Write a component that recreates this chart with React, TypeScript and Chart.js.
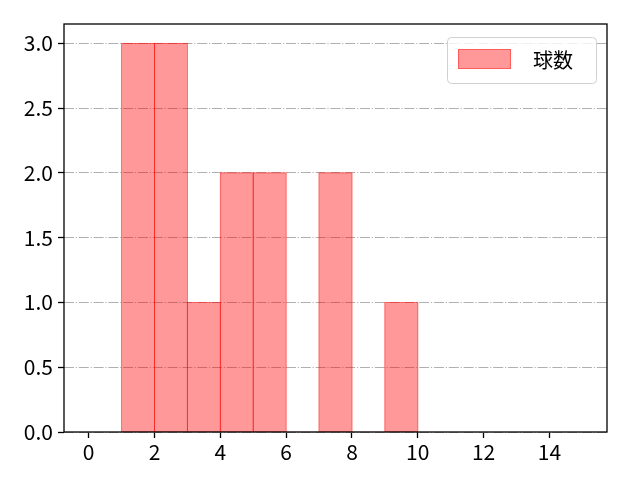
import React, { useEffect, useRef } from "react";
import { Chart, registerables } from "chart.js";

Chart.register(...registerables);

const binCenters = [1.5, 2.5, 3.5, 4.5, 5.5, 6.5, 7.5, 8.5, 9.5];
const counts = [3, 3, 1, 2, 2, 0, 2, 0, 1];
const xTicks = [0, 2, 4, 6, 8, 10, 12, 14];
const yTicks = [0, 0.5, 1, 1.5, 2, 2.5, 3];
const legendLabel = "球数";

const FONT = "'Noto Sans CJK JP', sans-serif";

const framePlugin = {
  id: "frame",
  afterDatasetsDraw(chart: any) {
    const { ctx } = chart;
    const meta = chart.getDatasetMeta(0);
    ctx.save();
    ctx.strokeStyle = "rgba(255,0,0,0.4)";
    ctx.lineWidth = 1;
    meta.data.forEach((el: any, i: number) => {
      if (!counts[i]) return;
      const left = el.x - el.width / 2;
      ctx.strokeRect(left, el.y, el.width, el.base - el.y);
    });
    ctx.restore();
  },
  afterDraw(chart: any) {
    const { ctx, chartArea } = chart;
    ctx.save();
    ctx.strokeStyle = "#000";
    ctx.lineWidth = 1.3;
    ctx.strokeRect(chartArea.left, chartArea.top, chartArea.right - chartArea.left, chartArea.bottom - chartArea.top);
    // legend
    const x = chartArea.right - 160, y = chartArea.top + 13, w = 149, h = 46;
    ctx.fillStyle = "rgba(255,255,255,0.8)";
    ctx.strokeStyle = "#d0d0d0";
    ctx.lineWidth = 1;
    ctx.beginPath();
    (ctx as any).roundRect(x + 0.5, y + 0.5, w, h, 4);
    ctx.fill();
    ctx.stroke();
    ctx.fillStyle = "rgba(255,0,0,0.4)";
    ctx.fillRect(x + 11, y + 12, 53, 20);
    ctx.strokeStyle = "rgba(255,0,0,0.4)";
    ctx.strokeRect(x + 11.5, y + 12.5, 52, 19);
    ctx.fillStyle = "#000";
    ctx.font = "20px 'Noto Sans CJK JP'";
    ctx.textBaseline = "middle";
    ctx.fillText(legendLabel, x + 86, y + 23);
    ctx.restore();
  },
};

export default function App() {
  const ref = useRef<HTMLCanvasElement>(null);
  useEffect(() => {
    const chart = new Chart(ref.current!, {
      type: "bar",
      data: {
        datasets: [
          {
            label: legendLabel,
            data: binCenters.map((x, i) => ({ x, y: counts[i] })),
            backgroundColor: "rgba(255,0,0,0.4)",
            borderWidth: 0,
            barPercentage: 1,
            categoryPercentage: 1,
          } as any,
        ],
      },
      options: {
        responsive: false,
        animation: false,
        layout: { padding: { left: 0, right: 33, top: 24, bottom: 0 } },
        plugins: { legend: { display: false }, tooltip: { enabled: false } },
        scales: {
          x: {
            type: "linear",
            min: -0.75,
            max: 15.75,
            offset: false,
            ticks: {
              color: "#000",
              font: { family: FONT, size: 21 },
              padding: 1,
              maxRotation: 0,
              callback: (v: any) => String(v),
            },
            afterBuildTicks: (s: any) => {
              s.ticks = xTicks.map((v) => ({ value: v }));
            },
            afterFit: (s: any) => {
              s.height = 48;
            },
            grid: { display: true, offset: false, drawOnChartArea: false, tickLength: 6, tickColor: "#000", tickWidth: 1.3 },
            border: { display: false },
          },
          y: {
            min: 0,
            max: 3.15,
            ticks: {
              color: "#000",
              font: { family: FONT, size: 21 },
              padding: 5,
              callback: (v: any) => Number(v).toFixed(1),
            },
            afterBuildTicks: (s: any) => {
              s.ticks = yTicks.map((v) => ({ value: v }));
            },
            afterFit: (s: any) => {
              s.width = 64;
            },
            grid: { color: "#b0b0b0", lineWidth: 1, tickLength: 6, tickColor: "#000", tickWidth: 1.3, tickBorderDash: [] } as any,
            border: { display: false, dash: [10, 1.8, 1.2, 1.8] },
          },
        },
      },
      plugins: [framePlugin],
    });
    return () => chart.destroy();
  }, []);
  return <canvas ref={ref} width={640} height={480} style={{ position: "absolute", left: 0, top: 0 }} />;
}
